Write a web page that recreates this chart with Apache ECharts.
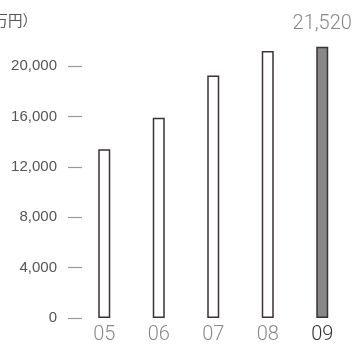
<!DOCTYPE html>
<html><head><meta charset="utf-8">
<script src="https://cdn.jsdelivr.net/npm/echarts@6/dist/echarts.min.js"></script>
<style>html,body{margin:0;padding:0;background:#fff}#c{width:357px;height:345px}</style>
</head><body><div id="c"></div>
<script>
const categories = ['05', '06', '07', '08', '09'];
const values = [13400, 15900, 19250, 21200, 21520];
const highlightIndex = 4;
const unitLabel = '（百万円）';

const chart = echarts.init(document.getElementById('c'), null, {renderer: 'canvas'});
chart.setOption({
  animation: false,
  grid: {left: 77, right: 7.5, top: 66, bottom: 26.7},
  graphic: [{
    type: 'text', x: 37, y: 20,
    style: {text: unitLabel, align: 'right', verticalAlign: 'middle', fill: '#555',
      font: '14.5px "Noto Sans CJK JP"'}
  }],
  xAxis: {
    type: 'category', data: categories,
    axisLine: {show: false}, axisTick: {show: false},
    axisLabel: {
      margin: 7, fontSize: 20, fontFamily: 'Roboto', fontWeight: 300,
      color: (v, i) => i === highlightIndex ? '#333' : '#8a8a8a'
    }
  },
  yAxis: {
    type: 'value', min: 0, max: 20000, interval: 4000, offset: -5,
    splitLine: {show: false},
    axisLine: {show: false},
    axisTick: {show: true, length: 14, lineStyle: {color: '#999', width: 1.2}},
    axisLabel: {margin: 25, fontSize: 15, color: '#555', fontFamily: 'Liberation Sans',
      formatter: v => v.toLocaleString('en-US')}
  },
  series: [{
    type: 'bar', clip: false, barWidth: 12,
    data: values.map((v, i) => ({
      value: v,
      itemStyle: {color: i === highlightIndex ? '#888' : '#fff'},
      label: i === highlightIndex ? {show: true, position: 'top', distance: 13,
        formatter: p => p.value.toLocaleString('en-US'), fontSize: 20, color: '#888',
        fontFamily: 'Roboto', fontWeight: 300} : {show: false}
    })),
    itemStyle: {borderColor: '#3a3332', borderWidth: 1.5}
  }]
});
</script></body></html>
